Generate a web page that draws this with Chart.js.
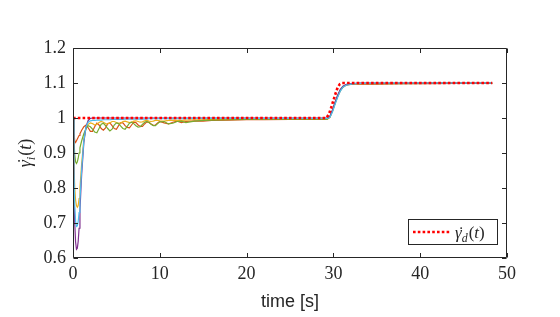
<!DOCTYPE html>
<html><head><meta charset="utf-8">
<script src="https://cdn.jsdelivr.net/npm/chart.js@4.4.1/dist/chart.umd.min.js"></script>
<style>html,body{margin:0;padding:0;background:#fff}#wrap{width:560px;height:317px}</style>
</head><body><div id="wrap"><canvas id="c" width="560" height="317"></canvas></div>
<script>
// shared time axis for the follower signals [s]
const time = [
 0,0.1,0.2,0.3,0.4,0.5,0.6,0.7,0.8,0.9,
 1,1.25,1.5,1.75,2,2.25,2.5,2.75,3,3.25,3.5,3.75,4,4.25,4.5,4.75,5,5.25,5.5,5.75,6,6.25,6.5,6.75,7,7.25,7.5,7.75,8,8.25,8.5,8.75,9,9.25,9.5,9.75,10,
 10.5,11,11.5,12,12.5,13,14,15,16,18,20,22,25,28,29,
 29.3,29.6,29.9,30.2,30.5,30.8,31.1,31.5,32,32.5,33,
 35,38,41,44,48.3];
const gammaOrange = [
 1.0,0.96,0.935,0.93,0.935,0.94,0.945,0.95,0.955,0.96,
 0.965,0.975,0.98,0.972,0.962,0.962,0.975,0.985,0.98,0.97,0.965,0.972,0.984,0.986,0.978,0.97,0.968,0.978,0.987,0.986,0.978,0.973,0.972,0.98,0.988,0.987,0.98,0.976,0.976,0.983,0.989,0.988,0.983,0.979,0.98,0.986,0.99,
 0.986,0.983,0.988,0.991,0.987,0.99,0.992,0.991,0.993,0.994,0.995,0.995,0.996,0.996,0.996,
 0.997,1.002,1.02,1.042,1.062,1.078,1.088,1.094,1.096,1.097,1.097,
 1.097,1.098,1.098,1.099,1.099];
const gammaYellow = [
 1.0,0.88,0.8,0.765,0.75,0.745,0.75,0.77,0.8,0.835,
 0.87,0.94,0.97,0.982,0.986,0.984,0.98,0.982,0.987,0.99,0.988,0.984,0.983,0.986,0.99,0.99,0.987,0.985,0.986,0.99,0.991,0.989,0.987,0.988,0.991,0.992,0.99,0.988,0.989,0.992,0.993,0.991,0.99,0.991,0.993,0.993,0.992,
 0.991,0.993,0.994,0.993,0.993,0.994,0.995,0.995,0.996,0.997,0.997,0.998,0.998,0.998,0.998,
 0.998,1.003,1.022,1.044,1.064,1.08,1.09,1.095,1.097,1.098,1.099,
 1.099,1.1,1.1,1.1,1.1];
const gammaPurple = [
 1.0,0.82,0.7,0.645,0.625,0.628,0.648,0.685,0.735,0.79,
 0.84,0.93,0.975,0.993,0.999,1,1,1,1,1,1,1,1,1,1,1,1,1,1,1,1,1,1,1,1,1,1,1,1,1,1,1,1,1,1,1,1,
 1,1,1,1,1,1,1,1,1,1,1,1,1,1,1,
 1,1.005,1.024,1.046,1.066,1.082,1.091,1.096,1.098,1.099,1.1,
 1.1,1.1,1.1,1.1,1.1];
const gammaGreen = [
 1.0,0.94,0.895,0.875,0.87,0.875,0.885,0.9,0.915,0.925,
 0.935,0.955,0.97,0.978,0.975,0.968,0.96,0.958,0.97,0.982,0.985,0.978,0.97,0.963,0.968,0.98,0.986,0.984,0.977,0.97,0.968,0.976,0.985,0.988,0.984,0.978,0.974,0.975,0.982,0.988,0.99,0.987,0.982,0.978,0.978,0.984,0.989,
 0.99,0.983,0.985,0.99,0.991,0.987,0.991,0.993,0.994,0.995,0.996,0.997,0.997,0.997,0.997,
 0.997,1.003,1.021,1.043,1.063,1.079,1.089,1.095,1.097,1.098,1.098,
 1.098,1.098,1.099,1.099,1.099];
const gammaCyan = [
 1.0,0.85,0.75,0.705,0.69,0.692,0.705,0.73,0.765,0.81,
 0.855,0.935,0.975,0.988,0.992,0.993,0.993,0.994,0.994,0.994,0.995,0.995,0.995,0.995,0.996,0.996,0.996,0.996,0.996,0.996,0.997,0.997,0.997,0.997,0.997,0.997,0.997,0.997,0.997,0.997,0.997,0.998,0.998,0.998,0.998,0.998,0.998,
 0.998,0.998,0.998,0.998,0.998,0.998,0.999,0.999,0.999,0.999,0.999,0.999,0.999,0.999,0.999,
 0.999,1.002,1.018,1.04,1.06,1.077,1.088,1.094,1.097,1.098,1.099,
 1.1,1.1,1.1,1.1,1.1];
// desired (reference) signal
const refTime = [0,29,29.2,29.5,29.75,30,30.25,30.5,30.75,31,48.3];
const gammaRef = [1,1,1,1.012,1.03,1.05,1.07,1.088,1.097,1.1,1.1];
const xTickValues = [0,10,20,30,40,50];
const yTickValues = [0.6,0.7,0.8,0.9,1.0,1.1,1.2];
const xTitle = 'time [s]';

const AX = '#262626';
function pts(xs, ys){ return xs.map((x,i)=>({x:x, y:ys[i]})); }
function line(data, color, order){
  return {data:data, borderColor:color, backgroundColor:color, borderWidth:1.2, pointRadius:0, tension:0, order:order, fill:false};
}
const datasets = [
  Object.assign(line(pts(refTime, gammaRef), '#FF0000', 0), {borderWidth:2.6, borderDash:[2.6,2.2], label:'ref'}),
  line(pts(time, gammaCyan), '#4DBEEE', 1),
  line(pts(time, gammaGreen), '#77AC30', 3),
  line(pts(time, gammaPurple), '#7E2F8E', 2),
  line(pts(time, gammaYellow), '#EDB120', 4),
  line(pts(time, gammaOrange), '#D95319', 5)
];

function setF(ctx, p, size){
  const s = p.sub ? size*0.7 : size;
  ctx.font = (p.it ? 'italic ' : '') + s + 'px "Liberation Serif"';
}
function drawMath(ctx, x, y, parts, size){
  let cx = x;
  for (const p of parts){
    setF(ctx, p, size);
    const gw = ctx.measureText(p.t).width;
    ctx.fillText(p.t, cx, y + (p.sub ? size*0.22 : 0));
    if (p.dot){
      const dw = ctx.measureText('\u02D9').width;
      ctx.fillText('\u02D9', cx + gw/2 - dw/2 + size*0.1, y);
    }
    cx += gw + (p.gap||0);
  }
  return cx - x;
}
function mathWidth(ctx, parts, size){
  let w = 0;
  for (const p of parts){ setF(ctx, p, size); w += ctx.measureText(p.t).width + (p.gap||0); }
  return w;
}

const framePlugin = {
  id:'frame',
  afterDraw(chart){
    const ctx = chart.ctx, a = chart.chartArea;
    const xs = chart.scales.x, ys = chart.scales.y;
    ctx.save();
    ctx.strokeStyle = AX; ctx.lineWidth = 1;
    const L = Math.round(a.left)+0.5, R = Math.round(a.right)-0.5, T = Math.round(a.top)+0.5, B = Math.round(a.bottom)-0.5;
    ctx.beginPath(); ctx.rect(L, T, R-L, B-T); ctx.stroke();
    const tl = 4.5;
    ctx.beginPath();
    xs.ticks.forEach(t=>{ const px = Math.round(xs.getPixelForValue(t.value))+0.5;
      ctx.moveTo(px,B); ctx.lineTo(px,B-tl); ctx.moveTo(px,T); ctx.lineTo(px,T+tl); });
    ys.ticks.forEach(t=>{ const py = Math.round(ys.getPixelForValue(t.value))+0.5;
      ctx.moveTo(L,py); ctx.lineTo(L+tl,py); ctx.moveTo(R,py); ctx.lineTo(R-tl,py); });
    ctx.stroke();
    // y label
    ctx.fillStyle = AX; ctx.textBaseline = 'alphabetic'; ctx.textAlign = 'left';
    const yParts = [{t:'\u03B3', it:true, dot:true},{t:'i', it:true, sub:true, gap:1},{t:'('},{t:'t', it:true},{t:')'}];
    const w = mathWidth(ctx, yParts, 18);
    ctx.save(); ctx.translate(31, (a.top+a.bottom)/2); ctx.rotate(-Math.PI/2);
    drawMath(ctx, -w/2, 0, yParts, 18);
    ctx.restore();
    // legend
    const bx = 408.5, by = 219.5, bw = 89, bh = 25;
    ctx.fillStyle = '#fff'; ctx.fillRect(bx, by, bw, bh);
    ctx.strokeStyle = AX; ctx.lineWidth = 1; ctx.strokeRect(bx, by, bw, bh);
    ctx.strokeStyle = '#FF0000'; ctx.lineWidth = 2.6; ctx.setLineDash([2.6,2.2]);
    ctx.beginPath(); ctx.moveTo(413, 232); ctx.lineTo(450, 232); ctx.stroke(); ctx.setLineDash([]);
    ctx.fillStyle = AX;
    drawMath(ctx, 455, 238, [{t:'\u03B3', it:true, dot:true},{t:'d', it:true, sub:true, gap:1},{t:'('},{t:'t', it:true},{t:')'}], 17);
    ctx.restore();
  }
};

new Chart(document.getElementById('c'), {
  type:'line',
  data:{datasets:datasets},
  options:{
    responsive:false, animation:false, events:[],
    layout:{padding:{left:0, right:53, top:48, bottom:0}},
    plugins:{legend:{display:false}, tooltip:{enabled:false}},
    scales:{
      x:{type:'linear', min:0, max:50,
         afterBuildTicks(s){ s.ticks = xTickValues.map(v=>({value:v})); },
         afterFit(s){ s.height = 59; },
         grid:{display:false, drawTicks:false}, border:{display:false},
         ticks:{padding:5, color:AX, font:{family:'"Liberation Serif"', size:18}, maxRotation:0, callback:v=>String(v)},
         title:{display:true, text:xTitle, color:AX, font:{family:'"Liberation Sans"', size:18}, padding:{top:0,bottom:4}}},
      y:{type:'linear', min:0.6, max:1.2,
         afterBuildTicks(s){ s.ticks = yTickValues.map(v=>({value:v})); },
         afterFit(s){ s.width = 73; },
         grid:{display:false, drawTicks:false}, border:{display:false},
         ticks:{padding:7, color:AX, font:{family:'"Liberation Serif"', size:18}, callback:v=>String(Math.round(v*10)/10)}}
    }
  },
  plugins:[framePlugin]
});
</script>
</body></html>
